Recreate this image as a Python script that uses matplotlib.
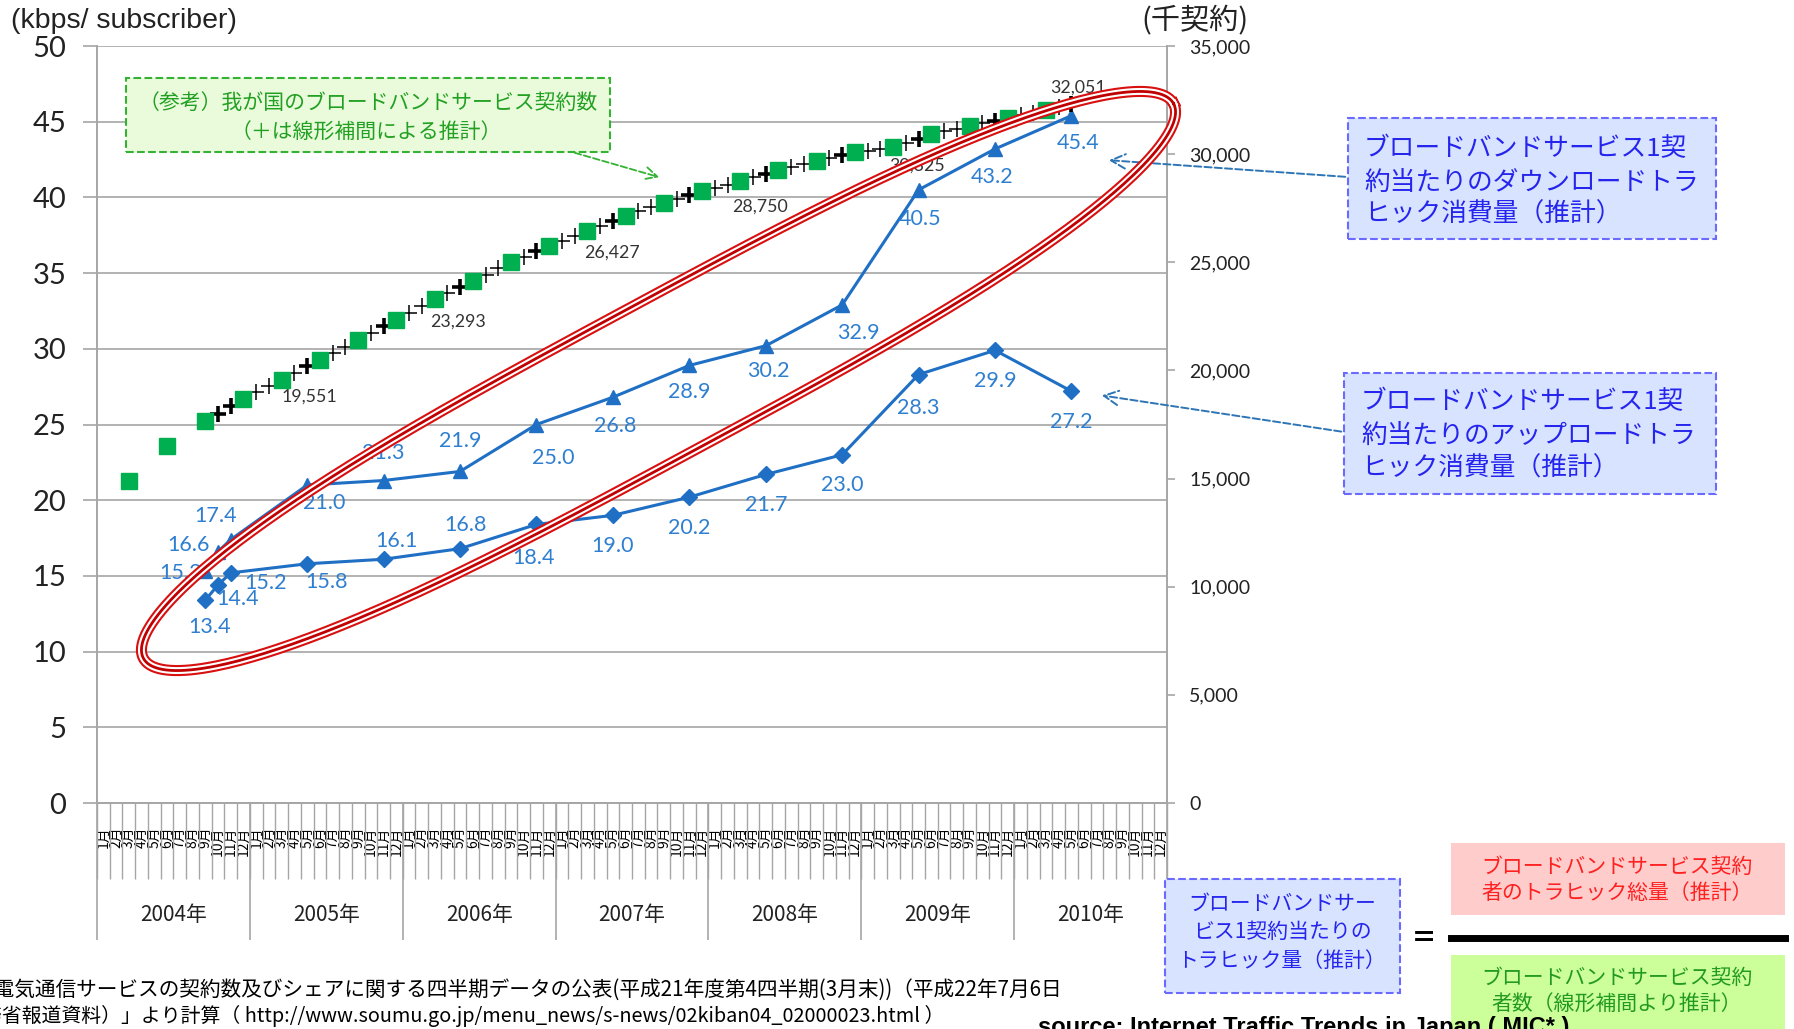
import numpy as np
import pandas as pd
import matplotlib
matplotlib.use("Agg")
import matplotlib.pyplot as plt
from matplotlib.lines import Line2D
from matplotlib.patches import Rectangle

plt.rcParams['font.family'] = ['Lato', 'Noto Sans CJK JP', 'DejaVu Sans']
JP = ['Noto Sans CJK JP', 'DejaVu Sans']

# traffic per subscriber (kbps), surveyed months
traffic_months = ["2004-09", "2004-10", "2004-11", "2005-05", "2005-11", "2006-05", "2006-11",
                  "2007-05", "2007-11", "2008-05", "2008-11", "2009-05", "2009-11", "2010-05"]
download = [15.3, 16.6, 17.4, 21.0, 21.3, 21.9, 25.0, 26.8, 28.9, 30.2, 32.9, 40.5, 43.2, 45.4]
upload = [13.4, 14.4, 15.2, 15.8, 16.1, 16.8, 18.4, 19.0, 20.2, 21.7, 23.0, 28.3, 29.9, 27.2]

# broadband subscribers (thousand), quarterly
subs_months = ["2004-03", "2004-06", "2004-09", "2004-12", "2005-03", "2005-06", "2005-09",
               "2005-12", "2006-03", "2006-06", "2006-09", "2006-12", "2007-03", "2007-06",
               "2007-09", "2007-12", "2008-03", "2008-06", "2008-09", "2008-12", "2009-03",
               "2009-06", "2009-09", "2009-12", "2010-03"]
subs = [14900, 16500, 17650, 18700, 19551, 20500, 21400, 22350, 23293, 24150, 25000, 25750,
        26427, 27150, 27750, 28280, 28750, 29280, 29660, 30080, 30325, 30920, 31300, 31670, 32051]
subs_labelled = ["2005-03", "2006-03", "2007-03", "2008-03", "2009-03", "2010-03"]

# monthly estimates (+), Sep 2004 .. May 2010
est_start = "2004-09"
est = [17650, 18000, 18350, 18700, 18984, 19267, 19551, 19867, 20184, 20500, 20800, 21100,
       21400, 21717, 22033, 22350, 22664, 22979, 23293, 23579, 23864, 24150, 24433, 24717,
       25000, 25250, 25500, 25750, 25976, 26201, 26427, 26668, 26909, 27150, 27350, 27550,
       27750, 27927, 28103, 28280, 28437, 28593, 28750, 28927, 29103, 29280, 29407, 29533,
       29660, 29800, 29940, 30080, 30162, 30243, 30325, 30523, 30722, 30920, 31047, 31173,
       31300, 31423, 31547, 31670, 31797, 31924, 32051, 32178, 32305]

years = ["2004年", "2005年", "2006年", "2007年", "2008年", "2009年", "2010年"]
months = pd.period_range("2004-01", "2010-12", freq="M")


def pos(m):
    return (pd.Period(m, "M") - months[0]).n


W, H = 1794, 1029
fig = plt.figure(figsize=(W / 100, H / 100), dpi=100)
ax = fig.add_axes([97 / W, 1 - 803 / H, (1167 - 97) / W, (803 - 46) / H])
ax2 = ax.twinx()

grey = '#a6a6a6'
blue = '#1f6fc5'
lblue = '#2f7fd0'

tx = [pos(m) for m in traffic_months]
ax.plot(tx, download, color=blue, lw=2.2, marker='^', ms=10.5, zorder=3)
ax.plot(tx, upload, color=blue, lw=2.2, marker='D', ms=8.5, zorder=3)

dl_off = [(-18, -1), (-21, 5), (-11, 17), (12, -13), (0, 20), (0, 22), (12, -24), (2, -21),
          (0, -19), (2, -18), (12, -20), (1, -21), (-2, -20), (5, -20)]
ul_off = [(3, -19), (14, -10), (25, -7), (14, -13), (9, 13), (4, 17), (-2, -24), (0, -22),
          (0, -22), (0, -22), (0, -22), (0, -24), (0, -22), (0, -22)]
for x, v, o in zip(tx, download, dl_off):
    ax.annotate(f"{v:.1f}", (x, v), xytext=o, textcoords='offset points', ha='center',
                va='center', color=lblue, fontsize=15.5)
for x, v, o in zip(tx, upload, ul_off):
    ax.annotate(f"{v:.1f}", (x, v), xytext=o, textcoords='offset points', ha='center',
                va='center', color=lblue, fontsize=15.5)

ex = np.arange(len(est)) + pos(est_start)
thin = [i for i, x in enumerate(ex) if x not in tx]
thick = [i for i, x in enumerate(ex) if x in tx]
ax2.plot(ex[thin], np.array(est)[thin], ls='none', marker='+', ms=12, mew=1.1, color='black', zorder=3)
ax2.plot(ex[thick], np.array(est)[thick], ls='none', marker='+', ms=12, mew=2.6, color='black', zorder=3)
sx = [pos(m) for m in subs_months]
ax2.plot(sx, subs, ls='none', marker='s', ms=11, color='#00b050', mec='#00b050', zorder=4)

sub_off = [(20, -12), (17, -16), (18, -15), (14, -18), (17, -13), (23, 16)]
for m, o in zip(subs_labelled, sub_off):
    v = subs[subs_months.index(m)]
    ax2.annotate(f"{v:,}", (pos(m), v), xytext=o, textcoords='offset points', ha='center',
                 va='center', color='#333333', fontsize=12.8)

ax.set_xlim(-0.5, len(months) - 0.5)
ax.set_ylim(0, 50)
ax2.set_ylim(0, 35000)
ax.set_yticks(range(0, 51, 5))
ax2.set_yticks(range(0, 35001, 5000))
ax2.set_yticklabels([f"{v:,}" for v in range(0, 35001, 5000)])
ax.grid(axis='y', color=grey, lw=1.2)
ax.set_axisbelow(True)
for a in (ax, ax2):
    a.spines['top'].set_visible(False)
    for s in ('left', 'right', 'bottom'):
        a.spines[s].set_color(grey)
        a.spines[s].set_linewidth(1.2)
ax.tick_params(axis='y', labelsize=21, length=10, color=grey, width=1.2, pad=12, labelcolor='#222222')
ax2.tick_params(axis='y', labelsize=14, length=6, color=grey, width=1.2, pad=10, labelcolor='#222222')

ax.set_xticks(range(len(months)))
ax.set_xticklabels([f"{m.month}月" for m in months], rotation=90, fontsize=10, family=JP)
ax.set_xticks(np.arange(-0.5, len(months)), minor=True)
ax.tick_params(axis='x', which='major', length=0, pad=17)
ax.tick_params(axis='x', which='minor', length=55, color=grey, width=1)
ax.vlines(np.arange(-0.5, len(months), 12), -0.181, 0, transform=ax.get_xaxis_transform(),
          colors=grey, lw=1.2, clip_on=False)
for k, y in enumerate(years):
    ax.text(5.5 + 12 * k, -0.148, y, transform=ax.get_xaxis_transform(), ha='center',
            va='center', fontsize=15, family=JP, color='#222222')


def fx(x):
    return x / W


def fy(y):
    return 1 - y / H


def box(x0, y0, x1, y1, fc, ec='none', ls='--', lw=1.5):
    fig.add_artist(Rectangle((fx(x0), fy(y1)), (x1 - x0) / W, (y1 - y0) / H,
                             transform=fig.transFigure, fc=fc, ec=ec, ls=ls, lw=lw, zorder=5))


def line_text(x, y, s, ha='center', **kw):
    fig.text(fx(x), fy(y), s, ha=ha, va='center', family=JP, zorder=6, **kw)


# axis titles
fig.text(fx(11), fy(21), "(kbps/ subscriber)", ha='left', va='center', fontsize=20.5,
         family=['Liberation Sans'], color='#222222')
line_text(1141, 21, "(千契約)", ha='left', fontsize=21, color='#222222')

# green note box
box(126, 78, 610, 152, '#eafbdc', '#33b233')
line_text(368, 103, "（参考）我が国のブロードバンドサービス契約数", fontsize=15, color='#22a022')
line_text(366, 132, "（＋は線形補間による推計）", fontsize=15, color='#22a022')
fig.add_artist(matplotlib.patches.FancyArrowPatch((fx(572), fy(152)), (fx(662), fy(178)),
               transform=fig.transFigure, arrowstyle='->', mutation_scale=22, ls='--',
               color='#33b233', lw=1.3, zorder=6))

# blue boxes
box(1348, 118, 1716, 239, '#d8e3ff', '#6a6aff')
for yy, s in zip([149, 183, 215], ["ブロードバンドサービス1契", "約当たりのダウンロードトラ", "ヒック消費量（推計）"]):
    line_text(1364, yy, s, ha='left', fontsize=18.5, color='#2525ee')
box(1344, 373, 1716, 494, '#d8e3ff', '#6a6aff')
for yy, s in zip([402, 436, 469], ["ブロードバンドサービス1契", "約当たりのアップロードトラ", "ヒック消費量（推計）"]):
    line_text(1361, yy, s, ha='left', fontsize=18.5, color='#2525ee')
for (x0, y0), (x1, y1) in [((1348, 177), (1106, 160)), ((1344, 432), (1099, 395))]:
    fig.add_artist(matplotlib.patches.FancyArrowPatch((fx(x0), fy(y0)), (fx(x1), fy(y1)),
                   transform=fig.transFigure, arrowstyle='->', mutation_scale=26, ls='--',
                   color='#2e75b6', lw=1.4, zorder=6))

# formula
box(1165, 879, 1400, 993, '#d8e3ff', '#6a6aff')
for yy, s in zip([904, 932, 961], ["ブロードバンドサー", "ビス1契約当たりの", "トラヒック量（推計）"]):
    line_text(1282, yy, s, fontsize=15, color='#2525ee')
fig.text(fx(1424), fy(938), "=", ha='center', va='center', fontsize=30, color='black', zorder=6)
box(1451, 843, 1785, 915, '#ffcccc')
line_text(1617, 867, "ブロードバンドサービス契約", fontsize=15, color='#ff2020')
line_text(1617, 893, "者のトラヒック総量（推計）", fontsize=15, color='#ff2020')
fig.add_artist(Line2D([fx(1451), fx(1785)], [fy(938), fy(938)], transform=fig.transFigure,
                      color='black', lw=5, zorder=6))
box(1451, 955, 1785, 1045, '#ccff99')
line_text(1617, 978, "ブロードバンドサービス契約", fontsize=15, color='#229922')
line_text(1617, 1004, "者数（線形補間より推計）", fontsize=15, color='#229922')

fig.text(fx(1038), fy(1016), "source: Internet Traffic Trends in Japan ( MIC* )", ha='left', va='top',
         fontsize=17, fontweight='bold', family=['Liberation Sans'], color='black', zorder=7)

# footnote (clipped at the left edge like the source image)
line_text(1062, 990, "「電気通信サービスの契約数及びシェアに関する四半期データの公表(平成21年度第4四半期(3月末))（平成22年7月6日",
          ha='right', fontsize=14.9, color='black')
line_text(944, 1016, "総務省報道資料）」より計算（ http://www.soumu.go.jp/menu_news/s-news/02kiban04_02000023.html ）",
          ha='right', fontsize=14.3, color='black')

# red highlight oval
cx, cy, a, b, th, p = 658.5, 381, 585, 78, np.radians(28.3), 3.0
t = np.linspace(0, 2 * np.pi, 400)
u = a * np.sign(np.cos(t)) * np.abs(np.cos(t)) ** (2 / p)
v = b * np.sin(t)
xs = cx + u * np.cos(th) + v * np.sin(th)
ys = cy - u * np.sin(th) + v * np.cos(th)
for lw, c in [(8, '#d81010'), (5, 'white'), (2, '#c00000')]:
    fig.add_artist(Line2D(fx(xs), fy(ys), transform=fig.transFigure, color=c, lw=lw, zorder=8))

fig.savefig("out.png", dpi=100)
